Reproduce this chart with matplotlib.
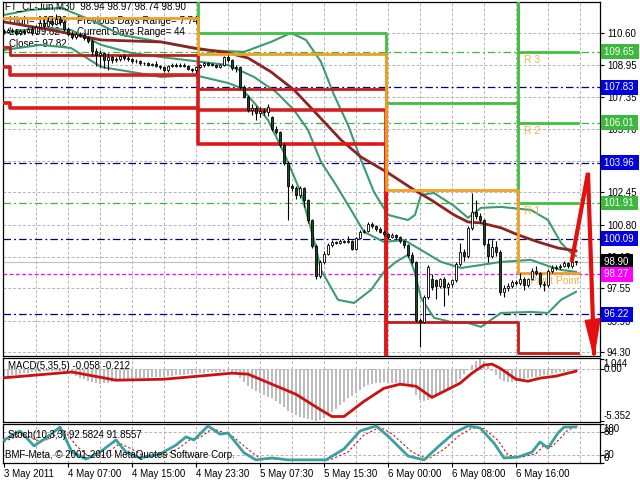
import matplotlib
matplotlib.use('Agg')
import matplotlib.pyplot as plt
import numpy as np

plt.rcParams['font.family'] = ['Liberation Sans', 'DejaVu Sans']
plt.rcParams['font.size'] = 7

# ---- data -------------------------------------------------------------
# M30 candles of FT_CL-Jun, bar 0 = 3 May 2011 late evening
opens = [110.70, 110.65, 110.75, 110.70, 110.60, 110.72, 110.65, 110.80, 110.60, 110.90, 111.10, 110.95,
         111.20, 111.05, 111.30, 111.15, 110.80, 110.55, 110.40, 110.55, 110.50, 110.35, 110.20, 109.70,
         109.45, 109.55, 109.20, 109.35, 109.20, 109.25, 109.40, 109.30, 109.25, 109.15, 109.18, 109.05,
         109.07, 108.98, 109.02, 108.92, 108.85, 108.70, 108.90, 108.95, 108.92, 108.96, 108.93, 108.75,
         108.70, 108.85, 108.95, 109.05, 108.98, 108.96, 108.88, 108.95, 109.35, 109.20, 108.80, 108.85,
         107.85, 107.35, 106.65, 106.75, 106.50, 106.60, 106.55, 106.30, 105.70, 105.55, 104.85, 103.95,
         102.80, 102.65, 102.30, 102.70, 102.05, 101.05, 99.70, 98.20, 98.90, 99.30, 99.75, 99.90,
         99.85, 99.95, 99.90, 99.95, 99.55, 100.10, 100.45, 100.50, 100.85, 100.75, 100.60, 100.45,
         100.30, 100.15, 100.25, 100.15, 99.95, 99.75, 99.25, 98.90, 95.95, 95.85, 97.10, 98.05,
         97.95, 97.65, 98.00, 97.60, 97.75, 97.95, 98.80, 99.40, 99.20, 100.65, 101.45, 101.25,
         101.05, 99.80, 99.20, 99.65, 99.40, 97.35, 97.55, 97.65, 97.85, 97.82, 98.05, 97.70,
         98.00, 98.45, 98.35, 97.75, 97.70, 98.45, 98.60, 98.65, 98.70, 98.85, 98.68, 98.94]
highs = [110.80, 110.85, 110.86, 110.80, 110.82, 110.80, 110.90, 110.95, 111.00, 111.25, 111.30, 111.40,
         111.35, 111.55, 111.45, 111.25, 110.90, 110.70, 110.65, 110.65, 110.60, 110.45, 110.30, 109.85,
         109.75, 109.65, 109.55, 109.40, 109.35, 109.45, 109.50, 109.40, 109.30, 109.25, 109.22, 109.12,
         109.12, 109.08, 109.15, 108.98, 108.90, 108.98, 109.05, 109.05, 109.05, 109.05, 108.98, 108.80,
         108.92, 109.00, 109.10, 109.10, 109.04, 109.00, 109.00, 109.40, 109.48, 109.25, 108.95, 108.90,
         107.95, 107.45, 106.95, 106.85, 106.80, 106.75, 106.95, 106.35, 105.85, 105.60, 104.95, 104.05,
         102.90, 102.80, 102.80, 102.75, 102.10, 101.10, 99.80, 99.00, 99.45, 99.85, 100.00, 99.97,
         100.05, 100.00, 100.20, 100.00, 100.15, 100.55, 100.60, 100.95, 100.95, 100.80, 100.70, 100.55,
         100.35, 100.35, 100.30, 100.20, 100.00, 99.80, 99.40, 98.95, 96.05, 97.20, 98.75, 98.30,
         98.05, 98.10, 98.15, 97.85, 98.05, 98.90, 99.85, 99.55, 100.75, 102.40, 102.05, 101.40,
         101.10, 100.05, 100.00, 99.95, 99.50, 97.70, 97.80, 97.95, 97.95, 98.35, 98.15, 98.10,
         98.60, 98.70, 98.40, 97.90, 98.55, 98.75, 98.75, 98.80, 98.95, 98.90, 99.05, 98.97]
lows = [110.55, 110.60, 110.60, 110.50, 110.50, 110.55, 110.60, 110.50, 110.55, 110.85, 110.85, 110.90,
        110.95, 111.00, 111.00, 110.70, 110.45, 110.30, 110.30, 110.40, 110.25, 110.10, 109.40, 108.90,
        108.85, 108.80, 108.70, 109.05, 109.10, 109.15, 109.20, 109.15, 109.05, 109.08, 108.98, 108.98,
        108.90, 108.92, 108.85, 108.78, 108.60, 108.62, 108.85, 108.85, 108.85, 108.85, 108.68, 108.60,
        108.55, 108.80, 108.88, 108.92, 108.90, 108.80, 108.82, 108.90, 109.10, 108.70, 108.60, 107.75,
        107.25, 106.55, 106.40, 106.15, 106.30, 106.40, 106.35, 105.60, 105.45, 104.75, 103.85, 101.05,
        102.50, 102.10, 102.15, 101.70, 100.90, 99.60, 98.05, 98.10, 98.80, 99.25, 99.65, 99.80,
        99.80, 99.85, 99.85, 99.50, 99.50, 100.05, 100.35, 100.45, 100.65, 100.50, 100.35, 100.20,
        100.05, 100.10, 100.05, 99.85, 99.60, 99.15, 98.80, 95.85, 94.55, 95.80, 97.00, 97.45,
        97.00, 97.55, 96.65, 97.20, 97.60, 97.85, 98.70, 98.95, 99.10, 100.55, 101.10, 100.90,
        99.70, 98.90, 99.10, 99.20, 97.20, 97.10, 97.40, 97.55, 97.70, 97.70, 97.45, 97.60,
        97.95, 98.25, 97.60, 97.40, 97.60, 98.35, 98.50, 98.55, 98.65, 98.60, 98.60, 98.74]
closes = [110.65, 110.75, 110.70, 110.60, 110.72, 110.65, 110.80, 110.60, 110.90, 111.10, 110.95, 111.20,
          111.05, 111.30, 111.15, 110.80, 110.55, 110.40, 110.55, 110.50, 110.35, 110.20, 109.70, 109.45,
          109.55, 109.20, 109.35, 109.20, 109.25, 109.40, 109.30, 109.25, 109.15, 109.18, 109.05, 109.07,
          108.98, 109.02, 108.92, 108.85, 108.70, 108.90, 108.95, 108.92, 108.96, 108.93, 108.75, 108.70,
          108.85, 108.95, 109.05, 108.98, 108.96, 108.88, 108.95, 109.35, 109.20, 108.80, 108.85, 107.85,
          107.35, 106.65, 106.75, 106.50, 106.60, 106.55, 106.80, 105.70, 105.55, 104.85, 103.95, 102.80,
          102.65, 102.30, 102.70, 102.05, 101.05, 99.70, 98.20, 98.90, 99.30, 99.75, 99.90, 99.85,
          99.95, 99.90, 99.95, 99.55, 100.10, 100.45, 100.50, 100.85, 100.75, 100.60, 100.45, 100.30,
          100.15, 100.25, 100.15, 99.95, 99.75, 99.25, 98.90, 95.95, 95.85, 97.10, 98.65, 97.60,
          97.65, 98.00, 97.60, 97.75, 97.95, 98.80, 99.40, 99.20, 100.65, 101.45, 101.25, 101.05,
          99.80, 99.20, 99.65, 99.40, 97.35, 97.55, 97.65, 97.85, 97.82, 98.05, 97.70, 98.00,
          98.45, 98.35, 97.75, 97.70, 98.45, 98.60, 98.65, 98.70, 98.85, 98.68, 98.90, 98.90]

# Bollinger bands and moving average (bar index, price)
bb_up_i = [0, 6.75, 14.25, 21.75, 29.25, 39.25, 49.25, 60, 66.75, 71.75, 75.5, 79.25, 82.5, 86, 89.25,
           92.5, 96, 101, 102.75, 104.25, 107.5, 112.5, 116, 119.25, 124.25, 131.75, 136, 139.25, 141.75, 143]
bb_up = [111.52, 111.78, 111.88, 111.26, 110.50, 110.14, 109.73, 109.63, 110.14, 110.60, 110.24, 109.12,
         107.43, 105.90, 104.11, 102.47, 101.30, 101.04, 101.30, 102.32, 102.42, 101.76, 101.15, 101.66,
         101.71, 101.55, 101.04, 99.87, 99.36, 99.20]
bb_mid_i = [0, 9.25, 16.75, 24.25, 31.75, 39.25, 49.25, 56, 62.5, 68, 72.5, 76, 79.25, 83, 86.75, 90,
            95, 100, 104.25, 109.25, 114.25, 119.25, 124.25, 131.75, 136, 139.25, 143]
bb_mid = [110.60, 110.86, 110.75, 109.99, 109.58, 109.37, 109.12, 108.96, 108.35, 107.58, 106.66, 105.64,
          104.01, 102.83, 101.56, 100.43, 99.92, 100.02, 99.51, 98.90, 98.59, 98.74, 98.90, 99.00, 98.69,
          98.49, 98.39]
bb_low_i = [0, 9.25, 16.75, 24.25, 31.75, 39.25, 47.5, 56, 59.25, 63, 66, 70, 74.25, 77.5, 79.25, 83.5,
            87.5, 91.75, 95, 98, 101, 102.5, 104.25, 107.5, 111.75, 116, 119.25, 124.25, 131.75, 136, 139.25, 143]
bb_low = [109.73, 109.99, 109.83, 108.86, 108.61, 108.35, 108.45, 108.04, 107.79, 106.92, 106.15, 104.47,
          102.42, 100.02, 98.49, 96.96, 96.80, 97.47, 98.39, 98.90, 99.26, 98.49, 97.06, 96.04, 95.83,
          95.78, 95.58, 96.29, 96.34, 96.29, 96.96, 97.37]
ma_i = [0, 11.75, 24.25, 39.25, 47.5, 56, 61, 66.75, 72.5, 77.5, 84.25, 89.25, 96, 102.5, 106.75,
        112.5, 116, 119.25, 124.25, 128.5, 133.5, 138.5, 143]
ma = [111.16, 110.75, 110.24, 110.14, 109.83, 109.58, 109.32, 108.61, 107.69, 106.61, 105.13, 104.26,
      103.45, 102.58, 102.07, 101.30, 100.94, 100.89, 100.64, 100.28, 99.92, 99.61, 99.46]

# daily pivot levels (113 / 93 = outside the visible range)
day_edges = [0, 1.5, 48.5, 95.5, 128.5, 143.4]
pivot = [111.36, 111.36, 109.53, 102.58, 98.34]
r1 = [113.0, 113.0, 110.60, 107.02, 101.91]
r2 = [113.0, 113.0, 113.0, 113.0, 106.01]
r3 = [113.0, 113.0, 113.0, 113.0, 109.65]
s1 = [109.88, 109.48, 107.74, 95.83, 94.25]
s2 = [108.86, 108.45, 106.67, 93.0, 93.0]
s3 = [107.00, 106.77, 104.93, 93.0, 93.0]

green_levels = [109.65, 106.01, 101.91]
blue_levels = [107.83, 103.96, 100.09, 96.22]
magenta_level = 98.27
price_ticks = [110.60, 108.95, 107.35, 105.70, 104.05, 102.45, 100.80, 99.15, 97.55, 95.90, 94.30]

# hand drawn arrow (bar index, price)
arrow_i = [142, 146, 147.5]
arrow_p = [99.00, 103.45, 94.25]
arrow_head_i = [145.3, 149.0, 147.5]
arrow_head_p = [95.90, 96.00, 94.10]

# MACD(5,35,5)
macd_hist = [-0.80, -0.72, -0.64, -0.56, -0.50, -0.45, -0.40, -0.35, -0.30, -0.26,
             -0.22, -0.20, -0.18, -0.18, -0.20, -0.28, -0.40, -0.55, -0.72, -0.90,
             -1.05, -1.20, -1.35, -1.45, -1.50, -1.48, -1.42, -1.35, -1.28, -1.20,
             -1.12, -1.06, -1.00, -0.96, -0.92, -0.90, -0.88, -0.85, -0.82, -0.80,
             -0.78, -0.74, -0.70, -0.66, -0.62, -0.58, -0.54, -0.50, -0.45, -0.40,
             -0.36, -0.32, -0.30, -0.30, -0.32, -0.28, -0.22, -0.30, -0.55, -0.95,
             -1.35, -1.75, -2.05, -2.30, -2.50, -2.70, -2.85, -3.05, -3.30, -3.60,
             -3.95, -4.35, -4.60, -4.80, -4.95, -5.05, -5.15, -5.28, -5.352, -5.30,
             -5.10, -4.80, -4.45, -4.10, -3.75, -3.40, -3.05, -2.75, -2.45, -2.15,
             -1.90, -1.70, -1.55, -1.45, -1.40, -1.38, -1.40, -1.42, -1.48, -1.55,
             -1.65, -1.80, -2.00, -2.70, -3.20, -3.35, -3.25, -3.05, -2.80, -2.55,
             -2.30, -2.05, -1.75, -1.40, -1.00, -0.55, -0.05, 0.45, 0.85, 1.044,
             0.85, 0.35, -0.20, -0.65, -1.00, -1.20, -1.30, -1.30, -1.25, -1.15,
             -1.05, -0.95, -0.85, -0.78, -0.72, -0.66, -0.58, -0.50, -0.42, -0.35,
             -0.27, -0.19, -0.12, -0.058]
macd_sig_i = [0, 17, 28, 40, 57, 61, 67, 73, 79, 82, 85, 90, 95, 99, 103, 107, 109, 114, 117,
              120, 122, 124, 128, 131, 134, 138, 143]
macd_sig = [-0.90, -0.30, -1.15, -1.05, -0.42, -0.52, -1.57, -2.62, -4.19, -4.93, -4.93, -3.35, -1.99,
            -1.57, -1.78, -2.94, -2.52, -1.47, -0.42, 0.42, 0.52, 0.10, -1.05, -1.26, -0.94, -0.73, -0.212]

# Stoch(10,3,3)
st_i = [0, 4, 7.5, 10.5, 14, 17, 20.5, 24, 28, 30.5, 34, 39, 43, 45.5, 47.5, 51, 54, 56, 60, 63, 67,
        71, 80.5, 85, 89, 93, 96, 101, 105, 109, 112.5, 116, 119, 122.5, 125, 128.5, 132, 134, 136,
        138.5, 140, 143]
st_main = [59, 82, 44, 64, 92, 28, 10, 28, 59, 28, 13, 23, 46, 67, 59, 95, 74, 77, 26, 8, 13,
           8, 8, 36, 82, 95, 69, 18, 8, 46, 77, 95, 90, 51, 13, 15, 28, 54, 38, 77, 92, 92.58]
sig_i = [0, 5, 8, 11, 15, 18, 21, 25, 29, 31.5, 35, 40, 44, 46.5, 49, 52, 55, 57, 61, 64, 68, 72,
         81.5, 86, 90, 94, 97, 102, 106, 110, 113.5, 117, 120, 123.5, 126, 129.5, 133, 135, 137,
         139.5, 141, 143]
st_sig = [55, 75, 58, 60, 85, 45, 18, 20, 50, 38, 18, 18, 40, 60, 65, 88, 78, 70, 35, 12, 10, 8,
          8, 28, 72, 92, 75, 28, 10, 35, 68, 90, 88, 58, 20, 15, 24, 45, 42, 68, 85, 91.86]

time_pos = [0, 16, 32, 48, 64, 80, 96, 112, 128]
time_labels = ['3 May 2011', '4 May 07:00', '4 May 15:00', '4 May 23:30', '5 May 07:30',
               '5 May 15:30', '6 May 00:00', '6 May 08:00', '6 May 16:00']

# ---- layout -----------------------------------------------------------
W, H = 640, 480
fig = plt.figure(figsize=(6.4, 4.8), dpi=100, facecolor='white')


def panel(top, bottom):
    a = fig.add_axes([3 / W, 1 - bottom / H, 597 / W, (bottom - top) / H])
    a.set_xlim(-0.25, 149.0)
    for s in a.spines.values():
        s.set_linewidth(0.9)
    a.tick_params(axis='x', bottom=False, labelbottom=False)
    a.yaxis.tick_right()
    a.tick_params(axis='y', length=3, width=0.8, pad=2, labelsize=7)
    return a


ax = panel(2, 356)
axm = panel(357.5, 422)
axs = panel(424, 463)

grid_kw = dict(color='#b4b4b4', lw=0.7, ls=(0, (3, 2)), zorder=0)
for a in (ax, axm, axs):
    for g in range(8, 150, 8):
        a.axvline(g, **grid_kw)


def put(a, top, bottom, px, py, s, **kw):
    a.text((px - 3) / 597, (bottom - py) / (bottom - top), s, transform=a.transAxes,
           va='center', ha='left', **kw)


# ---- main price panel -------------------------------------------------
ax.set_ylim(94.09, 112.18)
ax.set_yticks(price_ticks)
ax.set_yticklabels(['%.2f' % v for v in price_ticks])
for v in price_ticks:
    ax.axhline(v, **grid_kw)

dashdot = (0, (6, 2.5, 1.5, 2.5))
for v in green_levels:
    ax.axhline(v, color='#3cb83c', lw=0.9, ls=dashdot, zorder=1)
for v in blue_levels:
    ax.axhline(v, color='#000080', lw=0.9, ls=dashdot, zorder=1)
ax.axhline(magenta_level, color='#ff00ff', lw=0.9, ls=(0, (3, 2)), zorder=1)
ax.axhline(closes[-1], color='#c0c0c0', lw=0.8, zorder=1)

# info text (partly hidden by the candles)
put(ax, 2, 356, 9, 21, 'High= 107.36', zorder=1)
put(ax, 2, 356, 77, 21, 'Previous Days Range= 7.74', zorder=1)
put(ax, 2, 356, 9, 32, 'Low= 99.62', zorder=1)
put(ax, 2, 356, 77, 32, 'Current Days Range= 44', zorder=1)
put(ax, 2, 356, 9, 44, 'Close= 97.82', zorder=1)

# indicators
ax.plot(bb_up_i, bb_up, color='#3c9c70', lw=1.5, zorder=2)
ax.plot(bb_mid_i, bb_mid, color='#3c9c70', lw=1.5, zorder=2)
ax.plot(bb_low_i, bb_low, color='#3c9c70', lw=1.5, zorder=2)
ax.plot(ma_i, ma, color='#8c2424', lw=2, zorder=2)


def step(vals, color, lw=2):
    ax.step(day_edges, vals + vals[-1:], where='post', color=color, lw=lw, zorder=3)


for lv in (r1, r2, r3):
    step(lv, '#40c040')
step(s1, '#c41c1c')
step(s2, '#d42020', 2.6)
step(s3, '#e01818', 2.6)
step(pivot, '#f0a020')

lab_kw = dict(textcoords='offset points', xytext=(0, -6), color='#f0b050', fontsize=7.5,
              va='center', zorder=3)
ax.annotate('R 3', xy=(130, r3[-1]), **lab_kw)
ax.annotate('R 2', xy=(130, r2[-1]), **lab_kw)
ax.annotate('R 1', xy=(130, r1[-1]), **lab_kw)
ax.annotate('Pivot Point', xy=(131.5, pivot[-1]), **lab_kw)

# candles
x = np.arange(len(closes))
o = np.array(opens)
c = np.array(closes)
up = c >= o
ax.vlines(x, lows, highs, color='black', lw=0.8, zorder=4)
ax.bar(x, np.maximum(np.abs(c - o), 0.03), bottom=np.minimum(o, c), width=0.7,
       color=np.where(up, 'white', '#1e4a1e'), edgecolor='black', lw=0.6, zorder=5)

# arrow
ax.plot(arrow_i, arrow_p, color='#e41010', lw=3, zorder=7, clip_on=False,
        solid_joinstyle='miter')
ax.fill(arrow_head_i, arrow_head_p, color='#e41010', zorder=7, clip_on=False)

put(ax, 2, 356, 5, 6, 'FT_CL-Jun,M30  98.94 98.97 98.74 98.90', zorder=10)

# price boxes on the right scale
box_levels = [(109.65, '#3cb83c'), (107.83, '#0000e0'), (106.01, '#3cb83c'), (103.96, '#0000e0'),
              (101.91, '#3cb83c'), (100.09, '#0000e0'), (98.90, 'black'), (98.27, '#ff00ff'),
              (96.22, '#0000e0')]
for v, col in box_levels:
    ax.text(1.006, v, '%.2f ' % v, transform=ax.get_yaxis_transform(), va='center', ha='left',
            color='white', fontsize=7, zorder=20, clip_on=False,
            bbox=dict(boxstyle='square,pad=0.25', fc=col, ec='none'))

# ---- MACD panel -------------------------------------------------------
axm.set_ylim(-5.50, 1.21)
axm.set_yticks([1.044, 0, -5.352])
axm.set_yticklabels([])
axm.axhline(0, **grid_kw)
axm.bar(x, macd_hist, width=0.55, color='#bcbcbc', zorder=1)
axm.plot(macd_sig_i, macd_sig, color='#cc1111', lw=2, zorder=3)
ytr = axm.get_yaxis_transform()
axm.text(1.006, 1.044, '1.044', transform=ytr, va='top', ha='left')
axm.text(1.006, 0, '0.00', transform=ytr, va='center', ha='left')
axm.text(1.006, -5.352, '-5.352', transform=ytr, va='bottom', ha='left')
put(axm, 357.5, 422, 8, 366, 'MACD(5,35,5) -0.058 -0.212', zorder=5)

# ---- Stochastic panel -------------------------------------------------
axs.set_ylim(0, 100)
axs.set_yticks([100, 80, 20, 0])
axs.set_yticklabels([])
axs.axhline(80, **grid_kw)
axs.axhline(20, **grid_kw)
axs.plot(sig_i, st_sig, color='#cc1111', lw=0.8, ls=(0, (2, 2)), zorder=2)
axs.plot(st_i, st_main, color='#3aa0a0', lw=2, zorder=3)
ytr = axs.get_yaxis_transform()
axs.text(1.006, 100, '100', transform=ytr, va='top', ha='left')
axs.text(1.006, 80, '80', transform=ytr, va='center', ha='left')
axs.text(1.006, 20, '20', transform=ytr, va='center', ha='left')
axs.text(1.006, 0, '0', transform=ytr, va='bottom', ha='left')
put(axs, 424, 463, 8, 435, 'Stoch(10,3,3) 92.5824 91.8557', zorder=5)
put(axs, 424, 463, 5, 455, 'BMF-Meta, \u00a9 2001-2010 MetaQuotes Software Corp.', zorder=5)

axs.set_xticks(time_pos)
axs.set_xticklabels(time_labels, ha='left')
axs.tick_params(axis='x', bottom=True, labelbottom=True, length=3, width=0.8, pad=1, labelsize=7)

fig.savefig('out.png', dpi=100, facecolor='white')
